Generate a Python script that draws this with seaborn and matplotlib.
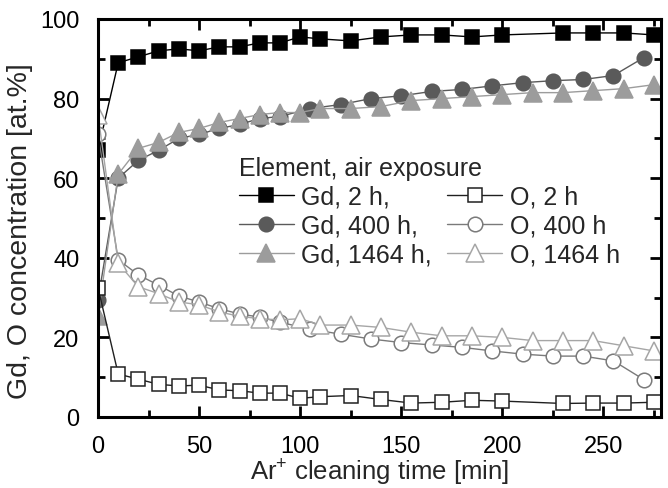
import matplotlib
matplotlib.use("Agg")
import matplotlib.pyplot as plt
from matplotlib.ticker import MultipleLocator
import seaborn as sns

# ---- data ----
x_sq = [0, 10, 20, 30, 40, 50, 60, 70, 80, 90, 100, 110, 125, 140, 155, 170, 185, 200, 230, 245, 260, 275]
gd_2h = [67, 89, 90.5, 92, 92.5, 92, 93, 93, 94, 94, 95.5, 95, 94.5, 95.5, 96, 96, 95.5, 96, 96.5, 96.5, 96.5, 96]
o_2h = [32.5, 10.8, 9.5, 8.2, 7.8, 8, 6.8, 6.6, 6, 6, 4.7, 5.1, 5.4, 4.4, 3.5, 3.7, 4.2, 4, 3.4, 3.5, 3.5, 3.7]

x_ci = [0, 10, 20, 30, 40, 50, 60, 70, 80, 90, 105, 120, 135, 150, 165, 180, 195, 210, 225, 240, 255, 270]
gd_400h = [29.5, 60, 64.5, 67, 70, 71, 72.5, 73.5, 75, 75.5, 77.5, 78.5, 80, 80.7, 81.8, 82.3, 83.2, 84, 84.5, 84.8, 85.8, 90.3]
o_400h = [71, 39.5, 35.7, 33.1, 30.4, 28.9, 27.2, 25.9, 25.1, 23.8, 22.1, 20.8, 19.6, 18.7, 18.1, 17.5, 16.6, 15.8, 15.3, 15.3, 14.1, 9.4]

x_tr = [0, 10, 20, 30, 40, 50, 60, 70, 80, 90, 100, 110, 125, 140, 155, 170, 185, 200, 215, 230, 245, 260, 275]
gd_1464h = [25.5, 61, 67.5, 69, 71.5, 72.5, 74, 75, 76, 76.5, 76.5, 77.5, 77.5, 78, 79.5, 80, 80.5, 81, 81.5, 81.5, 82, 82.5, 83.5]
o_1464h = [76, 38.6, 32.7, 31, 28.9, 28.2, 26.4, 25.3, 24.7, 24.4, 24.7, 23.1, 23.1, 22.5, 21.3, 20.4, 20.4, 20, 19.2, 19.2, 19.2, 17.9, 16.6]

labels = ["Gd, 2 h,", "Gd, 400 h,", "Gd, 1464 h,", "O, 2 h", "O, 400 h", "O, 1464 h"]
legend_title = "Element, air exposure"
x_label = "Ar$^{+}$ cleaning time [min]"
y_label = "Gd, O concentration [at.%]"

# ---- style ----
sns.set_style("ticks")
plt.rcParams["font.family"] = ["Liberation Sans", "DejaVu Sans"]
plt.rcParams["mathtext.default"] = "regular"

fig = plt.figure(figsize=(6.68, 4.89), dpi=100)
ax = fig.add_axes([98 / 668, 1 - 418 / 489, (661 - 98) / 668, (418 - 20) / 489])

series = [
    (x_sq, gd_2h, "s", 10, "black", "black", "black", labels[0]),
    (x_ci, gd_400h, "o", 10.5, "#5a5a5a", "#5a5a5a", "#5a5a5a", labels[1]),
    (x_tr, gd_1464h, "^", 12.5, "#9c9c9c", "#9c9c9c", "#9c9c9c", labels[2]),
    (x_sq, o_2h, "s", 10, "white", "#202020", "#202020", labels[3]),
    (x_ci, o_400h, "o", 10.5, "white", "#7a7a7a", "#7a7a7a", labels[4]),
    (x_tr, o_1464h, "^", 12.5, "white", "#a6a6a6", "#a6a6a6", labels[5]),
]

for xs, ys, mk, ms, fc, ec, lc, lab in series:
    sns.lineplot(x=xs, y=ys, ax=ax, color=lc, linewidth=1.0, marker=mk,
                 markersize=ms, markerfacecolor=fc, markeredgecolor=ec,
                 markeredgewidth=1.1, label=lab, sort=False, estimator=None)

ax.set_xlim(0, 278.5)
ax.set_ylim(0, 100)
ax.xaxis.set_major_locator(MultipleLocator(50))
ax.xaxis.set_minor_locator(MultipleLocator(25))
ax.yaxis.set_major_locator(MultipleLocator(20))
ax.yaxis.set_minor_locator(MultipleLocator(10))
ax.tick_params(which="both", direction="in", top=True, right=True, width=2, colors="black")
ax.tick_params(which="major", length=8, labelsize=17)
ax.tick_params(axis="x", which="major", pad=13)
ax.tick_params(axis="y", which="major", pad=13.5)
ax.tick_params(which="minor", length=5)
for sp in ax.spines.values():
    sp.set_linewidth(2.2)
    sp.set_color("black")

ax.set_xlabel(x_label, fontsize=18.5, labelpad=0)
ax.set_ylabel(y_label, fontsize=20.5)
ax.yaxis.set_label_coords(-0.116, 0.47)

handles, labs = ax.get_legend_handles_labels()
leg = ax.legend(handles, labs, ncol=2, title=legend_title, loc="upper left",
                bbox_to_anchor=(0.229, 0.686), frameon=False, fontsize=18,
                title_fontsize=18, borderpad=0.48, borderaxespad=0,
                handlelength=2.2, handletextpad=0.3, columnspacing=0.6,
                labelspacing=0.2, alignment="left")

fig.savefig("out.png", dpi=100)
